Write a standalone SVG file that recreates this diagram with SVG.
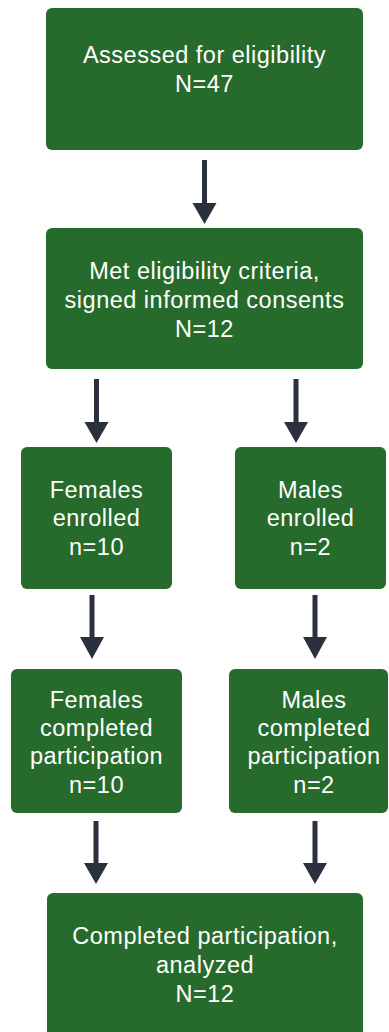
<svg xmlns="http://www.w3.org/2000/svg" width="389" height="1032" viewBox="0 0 389 1032">
  <style>
    .box { fill: #276b2c; }
    .lbl { fill: #ffffff; font-family: "Liberation Sans", Arial, sans-serif; font-size: 23.5px; letter-spacing: 0.5px; text-anchor: middle; }
    .shaft { stroke: #2b303f; stroke-width: 5; fill: none; }
    .head { fill: #2b303f; }
  </style>
  <rect width="389" height="1032" fill="#ffffff"/>
  <g id="connectors">
    <line class="shaft" x1="204.5" y1="160" x2="204.5" y2="205"/>
    <polygon class="head" points="192.5,203 216.5,203 204.5,224"/>
    <line class="shaft" x1="96.5" y1="379" x2="96.5" y2="424"/>
    <polygon class="head" points="84.5,422 108.5,422 96.5,443"/>
    <line class="shaft" x1="296" y1="379" x2="296" y2="424"/>
    <polygon class="head" points="284,422 308,422 296,443"/>
    <line class="shaft" x1="92" y1="595" x2="92" y2="639"/>
    <polygon class="head" points="80,637 104,637 92,659"/>
    <line class="shaft" x1="315" y1="595" x2="315" y2="639"/>
    <polygon class="head" points="303,637 327,637 315,659"/>
    <line class="shaft" x1="96" y1="821" x2="96" y2="865"/>
    <polygon class="head" points="84,863 108,863 96,884"/>
    <line class="shaft" x1="315" y1="821" x2="315" y2="865"/>
    <polygon class="head" points="303,863 327,863 315,884"/>
  </g>
  <g id="assessed">
    <rect class="box" x="46" y="8" width="317" height="142" rx="6"/>
    <text class="lbl" x="204.5" y="62.5">Assessed for eligibility</text>
    <text class="lbl" x="204.5" y="92">N=47</text>
  </g>
  <g id="met">
    <rect class="box" x="46" y="228" width="317" height="141" rx="6"/>
    <text class="lbl" x="204.5" y="278.5">Met eligibility criteria,</text>
    <text class="lbl" x="204.5" y="307.5">signed informed consents</text>
    <text class="lbl" x="204.5" y="337">N=12</text>
  </g>
  <g id="females-enrolled">
    <rect class="box" x="21" y="447" width="151" height="142" rx="6"/>
    <text class="lbl" x="96.5" y="497.5">Females</text>
    <text class="lbl" x="96.5" y="526">enrolled</text>
    <text class="lbl" x="96.5" y="554.5">n=10</text>
  </g>
  <g id="males-enrolled">
    <rect class="box" x="235" y="447" width="151" height="142" rx="6"/>
    <text class="lbl" x="310.5" y="497.5">Males</text>
    <text class="lbl" x="310.5" y="526">enrolled</text>
    <text class="lbl" x="310.5" y="554.5">n=2</text>
  </g>
  <g id="females-completed">
    <rect class="box" x="11" y="669" width="171" height="144" rx="6"/>
    <text class="lbl" x="96.5" y="707.5">Females</text>
    <text class="lbl" x="96.5" y="735.5">completed</text>
    <text class="lbl" x="96.5" y="764">participation</text>
    <text class="lbl" x="96.5" y="792.5">n=10</text>
  </g>
  <g id="males-completed">
    <rect class="box" x="229" y="669" width="159" height="144" rx="6"/>
    <text class="lbl" x="314" y="707.5">Males</text>
    <text class="lbl" x="314" y="735.5">completed</text>
    <text class="lbl" x="314" y="764">participation</text>
    <text class="lbl" x="314" y="792.5">n=2</text>
  </g>
  <g id="completed-analyzed">
    <rect class="box" x="47" y="893" width="316" height="145" rx="6"/>
    <text class="lbl" x="205" y="943.5">Completed participation,</text>
    <text class="lbl" x="205" y="972.5">analyzed</text>
    <text class="lbl" x="205" y="1001.5">N=12</text>
  </g>
</svg>
